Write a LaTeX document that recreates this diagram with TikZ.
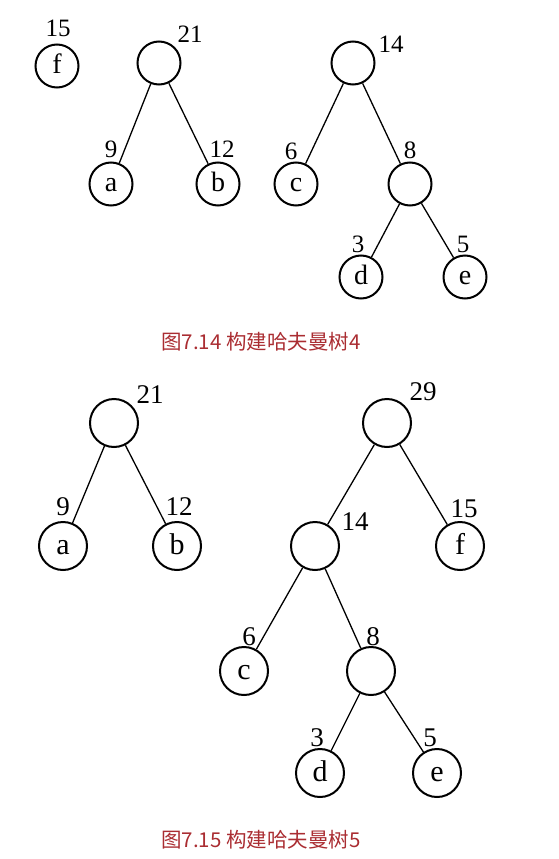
\documentclass[tikz,border=0pt]{standalone}
\usepackage{fontspec}
\setmainfont{Liberation Serif}
\newfontfamily\cjk{Noto Sans CJK SC}
\usetikzlibrary{positioning}
\definecolor{captred}{RGB}{170,45,50}

\begin{document}
\begin{tikzpicture}[x=1pt,y=-1pt,
		leaf/.style={circle,draw=black,line width=2pt,inner sep=0pt,minimum size=43pt,text height=15pt,text depth=0pt,font=\fontsize{28}{28}\selectfont},
		bigleaf/.style={leaf,minimum size=48pt,text height=16pt,font=\fontsize{30}{30}\selectfont},
		wt/.style={inner sep=0pt,font=\fontsize{25}{25}\selectfont},
		bigwt/.style={inner sep=0pt,font=\fontsize{27}{27}\selectfont},
		edge/.style={line width=1.3pt},
		caption/.style={inner sep=0pt,anchor=west,text=captred,font=\cjk\fontsize{20.5}{20.5}\selectfont}]
		\useasboundingbox (0,0) rectangle (559,859);
		% 图7.14
		\node[leaf] (f1) at (57,66) {f};
		\node[wt] (f1w) at (58,28) {15};
		\node[leaf] (n21) at (159,63) {};
		\node[wt] (n21w) at (190,34) {21};
		\node[leaf] (a1) at (111,184) {a};
		\node[wt] (a1w) at (111,149) {9};
		\node[leaf] (b1) at (218,184) {b};
		\node[wt] (b1w) at (222,149) {12};
		\node[leaf] (n14) at (353,63) {};
		\node[wt] (n14w) at (391,44) {14};
		\node[leaf] (c1) at (296,184) {c};
		\node[wt] (c1w) at (291,151) {6};
		\node[leaf] (n8) at (410,184) {};
		\node[wt] (n8w) at (410,150) {8};
		\node[leaf] (d1) at (361,277) {d};
		\node[wt] (d1w) at (358,244) {3};
		\node[leaf] (e1) at (465,277) {e};
		\node[wt] (e1w) at (463,244) {5};
		\node[caption] (cap1) at (161,342) {图7.14 构建哈夫曼树4};

		\draw[edge] (n21) -- (a1);
		\draw[edge] (n21) -- (b1);
		\draw[edge] (n14) -- (c1);
		\draw[edge] (n14) -- (n8);
		\draw[edge] (n8) -- (d1);
		\draw[edge] (n8) -- (e1);

		% 图7.15
		\node[bigleaf] (m21) at (114,423) {};
		\node[bigwt] (m21w) at (150,395) {21};
		\node[bigleaf] (a2) at (63,546) {a};
		\node[bigwt] (a2w) at (63,507) {9};
		\node[bigleaf] (b2) at (177,546) {b};
		\node[bigwt] (b2w) at (179,507) {12};
		\node[bigleaf] (m29) at (387,423) {};
		\node[bigwt] (m29w) at (423,392) {29};
		\node[bigleaf] (m14) at (315,546) {};
		\node[bigwt] (m14w) at (355,522) {14};
		\node[bigleaf] (f2) at (460,546) {f};
		\node[bigwt] (f2w) at (464,509) {15};
		\node[bigleaf] (c2) at (244,671) {c};
		\node[bigwt] (c2w) at (249,637) {6};
		\node[bigleaf] (m8) at (371,671) {};
		\node[bigwt] (m8w) at (373,637) {8};
		\node[bigleaf] (d2) at (320,773) {d};
		\node[bigwt] (d2w) at (317,738) {3};
		\node[bigleaf] (e2) at (437,773) {e};
		\node[bigwt] (e2w) at (430,738) {5};
		\node[caption] (cap2) at (161,840) {图7.15 构建哈夫曼树5};

		\draw[edge] (m21) -- (a2);
		\draw[edge] (m21) -- (b2);
		\draw[edge] (m29) -- (m14);
		\draw[edge] (m29) -- (f2);
		\draw[edge] (m14) -- (c2);
		\draw[edge] (m14) -- (m8);
		\draw[edge] (m8) -- (d2);
		\draw[edge] (m8) -- (e2);
	\end{tikzpicture}
\end{document}
